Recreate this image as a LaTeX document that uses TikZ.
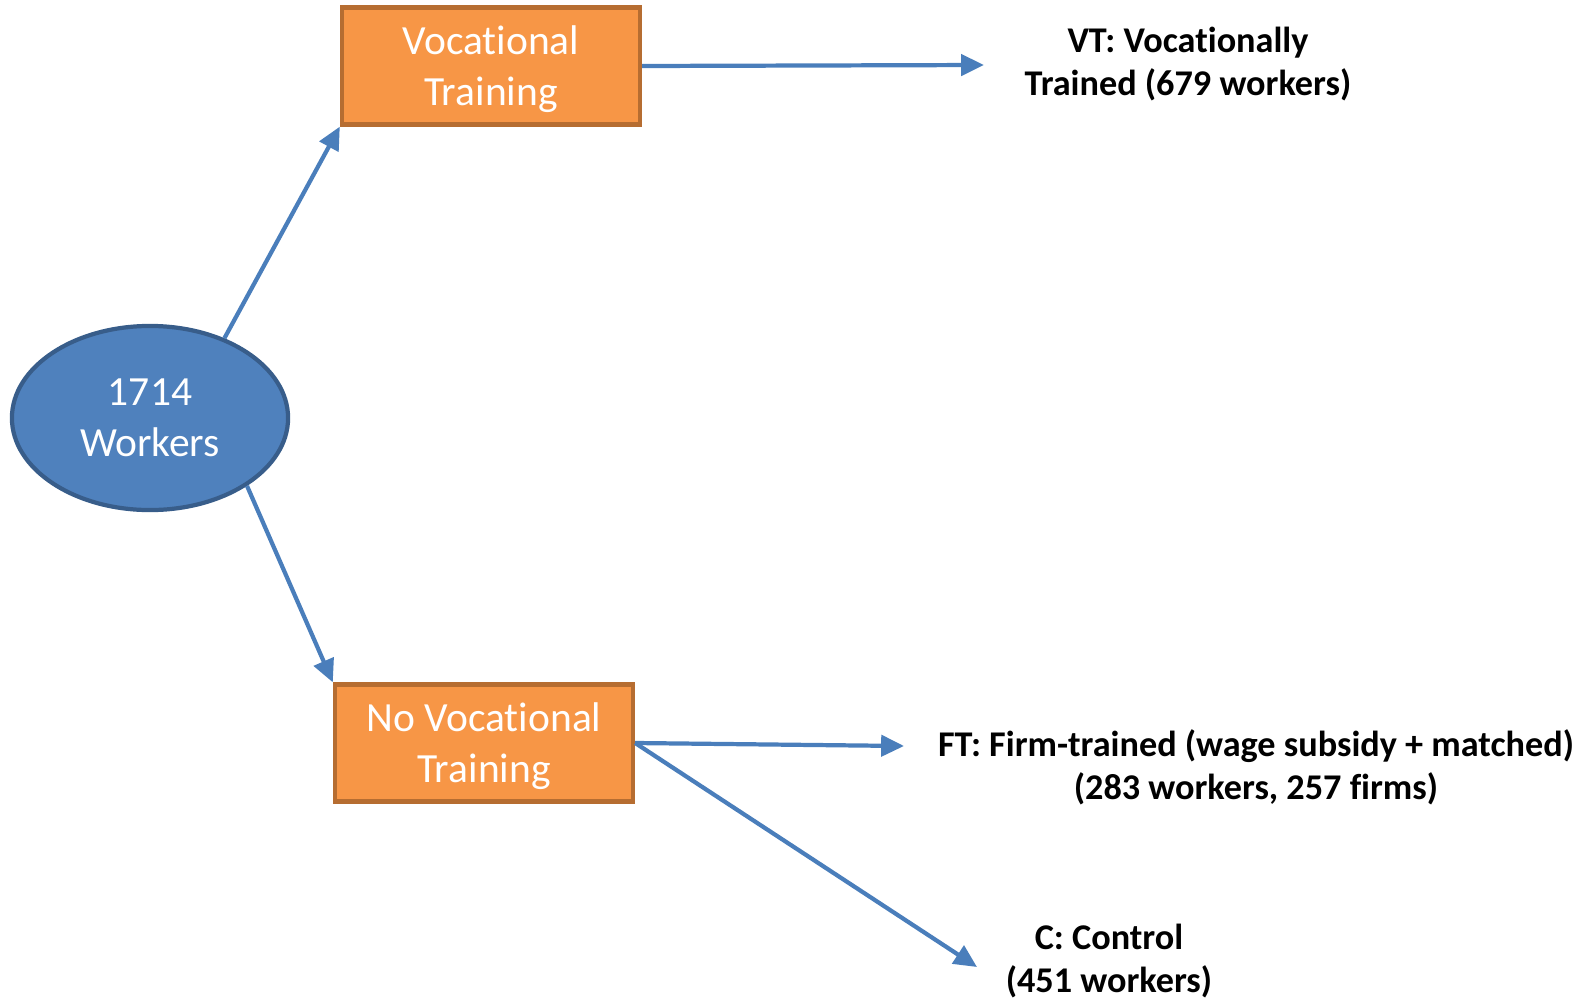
\documentclass[tikz,border=0pt]{standalone}
\usepackage{fontspec}
\setmainfont{Carlito}[Ligatures=NoCommon]
\usetikzlibrary{arrows.meta,shapes.geometric}
\definecolor{ovalfill}{HTML}{4F81BD}
\definecolor{ovaledge}{HTML}{385D8A}
\definecolor{boxfill}{HTML}{F79646}
\definecolor{boxedge}{HTML}{B66D31}
\definecolor{arrblue}{HTML}{4A7EBB}

\begin{document}
\begin{tikzpicture}[x=0.01cm,y=-0.01cm,
      grp/.style={draw=boxedge,fill=boxfill,line width=1.2pt,minimum width=2.98cm,minimum height=1.17cm,
        inner sep=0pt,align=center,text=white,font=\fontsize{11.8}{14.5}\selectfont},
      arr/.style={-{Triangle[length=6.5pt,width=6pt]},line width=1.2pt,draw=arrblue,fill=arrblue},
      lbl/.style={align=center,font=\bfseries\fontsize{10.3}{12.3}\selectfont}]
    \useasboundingbox (0,0) rectangle (1588,1003);
    % all workers
    \node[ellipse,draw=ovaledge,fill=ovalfill,line width=1.2pt,minimum width=2.76cm,minimum height=1.84cm,
      inner sep=0pt,align=center,text=white,font=\fontsize{11.8}{14.5}\selectfont] (all) at (150,418) {1714\\Workers};
    % first split
    \node[grp] (vt) at (491,66) {\rule{0pt}{10.2pt}Vocational\\Training};
    \node[grp] (nvt) at (484,743) {\rule{0pt}{10.2pt}No Vocational\\Training};
    \draw[arr] (all.47) -- (vt.south west);
    \draw[arr] (all.-35) -- (nvt.north west);
    % groups
    \node[lbl] (vtlbl) at (1188,64) {VT: Vocationally\\Trained (679 workers)};
    \node[lbl] (ftlbl) at (1256,767) {FT: Firm-trained (wage subsidy + matched)\\(283 workers, 257 firms)};
    \node[lbl] (clbl) at (1109,961) {C: Control\\(451 workers)};
    \coordinate (vtin) at (984,65);
    \coordinate (ftin) at (904,746);
    \coordinate (cin) at (977,967);
    \draw[arr] (vt.east) -- (vtin);
    \draw[arr] (nvt.east) -- (ftin);
    \draw[arr] (nvt.east) -- (cin);
  \end{tikzpicture}
\end{document}
